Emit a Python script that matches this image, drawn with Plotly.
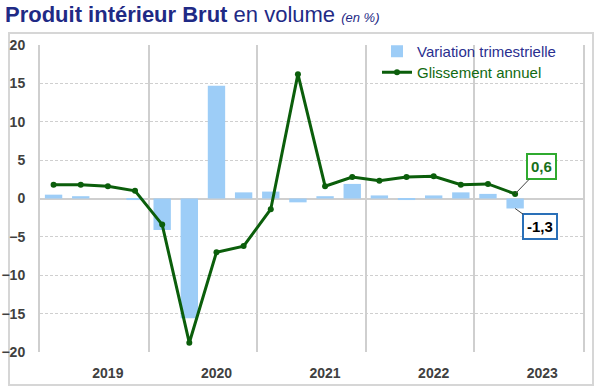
import plotly.graph_objects as go

# ---- data ----
quarters = ["2019T1", "2019T2", "2019T3", "2019T4",
            "2020T1", "2020T2", "2020T3", "2020T4",
            "2021T1", "2021T2", "2021T3", "2021T4",
            "2022T1", "2022T2", "2022T3", "2022T4",
            "2023T1", "2023T2"]
variation_trimestrielle = [0.5, 0.3, 0.0, -0.2,
                           -4.1, -15.6, 14.7, 0.8,
                           0.9, -0.5, 0.3, 1.9,
                           0.4, -0.2, 0.4, 0.8,
                           0.6, -1.3]
glissement_annuel = [1.8, 1.8, 1.6, 1.0,
                     -3.4, -18.8, -7.0, -6.2,
                     -1.4, 16.2, 1.6, 2.8,
                     2.3, 2.8, 2.9, 1.8,
                     1.9, 0.6]
years = ["2019", "2020", "2021", "2022", "2023"]
quarters_per_year = 4
label_last_line = "0,6"
label_last_bar = "-1,3"

# ---- layout constants ----
W, H = 600, 391
ML, MR, MT, MB = 40, 17, 45, 39
PW, PH = W - ML - MR, H - MT - MB

NAVY = "#1f2a85"
GREEN = "#0b5e0b"
BAR = "#9dcdf7"
GRID = "#cfcfcf"
TICK = "#404040"
FONT = "Liberation Sans, Arial, sans-serif"

x = list(range(len(quarters)))
year_pos = [i * quarters_per_year + 2 for i in range(len(years))]
n_slots = len(years) * quarters_per_year

fig = go.Figure()
fig.add_trace(go.Bar(
    x=x, y=variation_trimestrielle, name="Variation trimestrielle",
    marker=dict(color=BAR, line=dict(width=0)), width=0.64,
    legend="legend",
))
fig.add_trace(go.Scatter(
    x=x, y=glissement_annuel, name="Glissement annuel", mode="lines+markers",
    line=dict(color=GREEN, width=3), marker=dict(color=GREEN, size=6),
    legend="legend2",
))

fig.update_layout(
    width=W, height=H,
    margin=dict(l=ML, r=MR, t=MT, b=MB, autoexpand=False),
    paper_bgcolor="white", plot_bgcolor="white",
    font=dict(family=FONT, color=TICK),
    title=dict(
        text="<b>Produit intérieur Brut</b> en volume <i><span style='font-size:13px'>(en %)</span></i>",
        font=dict(family=FONT, size=22, color=NAVY),
        x=5 / W, xanchor="left", y=1 - 14 / H, yanchor="middle",
    ),
    showlegend=True,
    legend=dict(x=(377 - ML) / PW, y=1 + 10 / PH, xanchor="left", yanchor="top",
                font=dict(size=15, color="#2a2f8f", family=FONT),
                bgcolor="rgba(0,0,0,0)", itemwidth=30,
                tracegroupgap=0),
    legend2=dict(x=(377 - ML) / PW, y=1 - 11 / PH, xanchor="left", yanchor="top",
                 font=dict(size=15, color="#116a11", family=FONT),
                 bgcolor="rgba(0,0,0,0)", itemwidth=30),
)

fig.update_xaxes(
    automargin=False,
    range=[-0.5, n_slots - 0.5],
    tickmode="array", tickvals=year_pos, ticktext=years,
    showgrid=False, zeroline=False,
    ticks="outside", ticklen=8, tickcolor="rgba(0,0,0,0)",
    tickfont=dict(size=14, color=TICK, family=FONT, weight="bold"),
    minor=dict(tick0=-0.5, dtick=quarters_per_year, showgrid=True,
               gridcolor=GRID, gridwidth=2, ticks=""),
)
fig.update_yaxes(
    automargin=False,
    range=[-20, 20], dtick=5,
    showgrid=True, gridcolor=GRID, gridwidth=1, griddash="3px,2px",
    zeroline=True, zerolinecolor=GRID, zerolinewidth=2,
    showline=True, mirror=True, linecolor=GRID, linewidth=2,
    ticks="outside", ticklen=10, tickcolor="rgba(0,0,0,0)",
    tickfont=dict(size=14, color=TICK, family=FONT, weight="bold"),
)

# value call-outs for the latest quarter
last = len(quarters) - 1
fig.add_annotation(
    x=last, y=glissement_annuel[last], xref="x", yref="y",
    text="<b>" + label_last_line + "</b>", showarrow=True, arrowhead=0,
    arrowwidth=1, arrowcolor="#404040", ax=26, ay=-27,
    font=dict(size=15, color="#17701a", family=FONT),
    bordercolor="#2faa2f", borderwidth=2, borderpad=3, bgcolor="white",
)
fig.add_annotation(
    x=last, y=variation_trimestrielle[last], xref="x", yref="y",
    text="<b>" + label_last_bar + "</b>", showarrow=True, arrowhead=0,
    arrowwidth=1, arrowcolor="#404040", ax=25, ay=18,
    font=dict(size=15, color="black", family=FONT),
    bordercolor="#2a70b8", borderwidth=2, borderpad=3, bgcolor="white",
)

# outer frame around the chart body
fig.add_shape(
    type="rect", xref="paper", yref="paper", layer="below",
    x0=-(ML - 9) / PW, x1=1 + (MR - 7) / PW,
    y0=-(MB - 6) / PH, y1=1 + (MT - 33) / PH,
    line=dict(color="#d6d6d6", width=2), fillcolor="rgba(0,0,0,0)",
)

# remove the browser's default page margin so the figure sits at the window origin
fig.write_html("out.html", config={"displayModeBar": False},
               post_script="document.body.style.margin='0';")
